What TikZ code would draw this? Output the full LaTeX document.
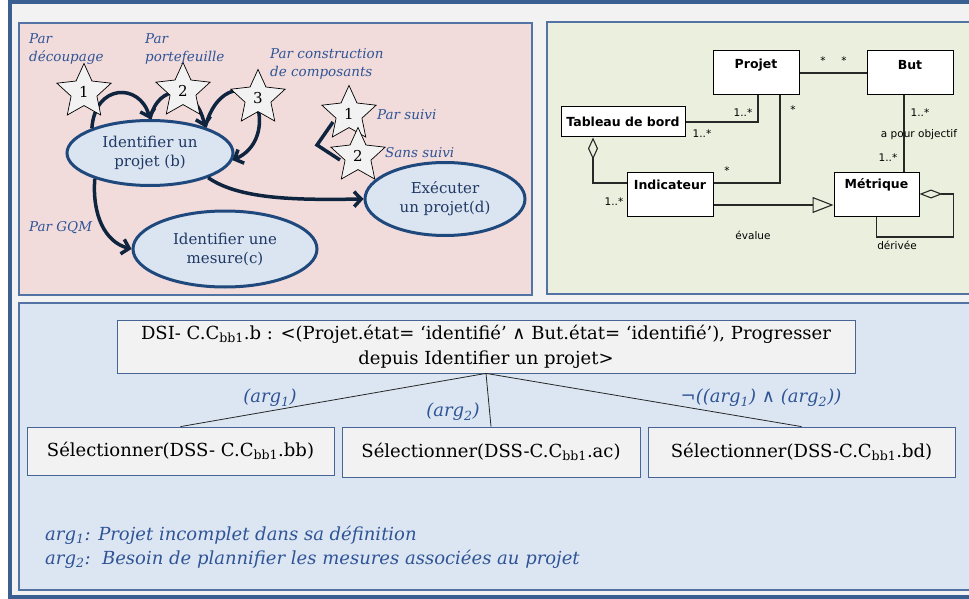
\documentclass[tikz,border=0pt]{standalone}
\usepackage{fontspec}
\setmainfont{DejaVu Serif}
\setsansfont{DejaVu Sans}
\usetikzlibrary{shapes.geometric,arrows.meta}
\definecolor{frameblue}{RGB}{58,95,145}
\definecolor{panelline}{RGB}{84,115,165}
\definecolor{bggray}{RGB}{242,242,242}
\definecolor{pinkfill}{RGB}{242,220,219}
\definecolor{greenfill}{RGB}{235,240,222}
\definecolor{bluefill}{RGB}{220,230,242}
\definecolor{arrnavy}{RGB}{15,36,62}
\definecolor{ellborder}{RGB}{31,73,125}
\definecolor{ellfill}{RGB}{219,229,241}
\definecolor{elltext}{RGB}{31,56,100}
\definecolor{lblblue}{RGB}{47,84,150}
\definecolor{stargray}{RGB}{242,242,242}
\definecolor{umlgray}{RGB}{40,40,40}
\definecolor{boxgray}{RGB}{242,242,242}
\definecolor{boxborder}{RGB}{70,100,150}
\newcommand{\logand}{{\sffamily\upshape ∧}}
\tikzset{
 arr/.style={line width=3.5pt, draw=arrnavy, -{Straight Barb[length=7pt,width=15pt]}},
 ell/.style={ellipse, draw=ellborder, line width=3pt, fill=ellfill, text=elltext, align=center, inner sep=0pt, font=\fontsize{15}{19}\selectfont},
 starnode/.style={star, star points=5, star point ratio=2.1, draw=black, line width=0.7pt, fill=stargray, minimum size=57pt, inner sep=0pt, font=\fontsize{15}{18}\selectfont},
 lbl/.style={text=lblblue, font=\fontsize{13.5}{18}\selectfont\itshape, align=left, inner sep=0pt},
 umlbox/.style={draw=black, line width=1pt, fill=white, inner sep=0pt},
 umltitle/.style={font=\sffamily\bfseries\fontsize{12.5}{15}\selectfont, inner sep=0pt},
 umllbl/.style={font=\sffamily\fontsize{10.5}{12}\selectfont, inner sep=0pt},
 uml/.style={draw=umlgray, line width=1.1pt},
 gbox/.style={draw=boxborder, line width=0.8pt, fill=boxgray, inner sep=0pt, align=center, font=\fontsize{18}{25}\selectfont},
 argl/.style={text=lblblue, font=\fontsize{18}{25}\selectfont\itshape, inner sep=0pt},
 tree/.style={draw=black!85, line width=0.8pt},
 panel/.style={draw=panelline, line width=1.2pt},
}
\begin{document}
\begin{tikzpicture}[x=1pt,y=-1pt]
\useasboundingbox (0,0) rectangle (969,599);
\clip (0,0) rectangle (969,599);
\fill[white] (0,0) rectangle (969,599);
\draw[draw=frameblue, line width=4pt, fill=bggray] (9.5,2) rectangle (990,597);
% panels
\draw[panel, fill=pinkfill] (19,23) rectangle (532,295);
\draw[panel, fill=greenfill] (547,22) rectangle (990,294);
\draw[panel, fill=bluefill] (19,303) rectangle (990,590);

% ---------- left panel ----------
\node[ell, minimum width=166pt, minimum height=65pt] (b) at (150,153) {Identifier un\\projet (b)};
\node[ell, minimum width=184pt, minimum height=76pt] (c) at (225,249) {Identifier une\\mesure(c)};
\node[ell, minimum width=160pt, minimum height=73pt] (d) at (445,199) {Exécuter\\un projet(d)};

\draw[arr] (b.157) .. controls (95,83) and (140,83) .. (b.north);
\draw[arr] (b.north) .. controls (158,83) and (195,83) .. (b.25);
\draw[arr] (b.25) .. controls (216,85) and (250,80) .. (258,108) .. controls (263,130) and (255,150) .. (b.-5);
\draw[arr] (b.-155) .. controls (92,215) and (105,242) .. (c.west);
\draw[arr] (b.-23) .. controls (240,200) and (300,200) .. (d.west);
\draw[line width=3.5pt, draw=arrnavy] (333,122) -- (317,145) -- (340,160);

\node[starnode] (s1) at (84,92) {1};
\node[starnode] (s2) at (183,91) {2};
\node[starnode] (s3) at (258,98) {3};
\node[starnode] (s4) at (349,114) {1};
\node[starnode] (s5) at (358,156) {2};

\node[lbl, anchor=north west] (l1) at (29,33) {Par\\découpage};
\node[lbl, anchor=north west] (l2) at (145,33) {Par\\portefeuille};
\node[lbl, anchor=north west] (l3) at (270,48) {Par construction\\de composants};
\node[lbl, anchor=west] (l4) at (377,115) {Par suivi};
\node[lbl, anchor=west] (l5) at (385,153) {Sans suivi};
\node[lbl, anchor=west] (l6) at (29,228) {Par GQM};

% ---------- right panel (UML) ----------
\node[umlbox, minimum width=86pt, minimum height=44pt] (projet) at (756,73) {};
\node[umltitle] at (756,65) {Projet};
\node[umlbox, minimum width=86pt, minimum height=44pt] (but) at (910,73) {};
\node[umltitle] at (910,65) {But};
\node[umlbox, minimum width=124pt, minimum height=30pt, umltitle] (tab) at (623,122) {Tableau de bord};
\node[umlbox, minimum width=86pt, minimum height=44pt] (ind) at (670,194) {};
\node[umltitle] at (670,185) {Indicateur};
\node[umlbox, minimum width=85pt, minimum height=44pt] (met) at (876.5,194) {};
\node[umltitle] at (876.5,185) {Métrique};

\draw[uml] (projet.east) -- (but.west);
\draw[uml] (tab.east) -| ([xshift=2pt]projet.south);
\draw[uml] ([xshift=24pt]projet.south) |- ([yshift=11pt]ind.east);
\draw[uml, {Diamond[open,length=22pt,width=10pt]}-] ([xshift=-30pt]tab.south) |- ([yshift=11pt]ind.west);
\draw[uml, -{Triangle[open,length=21pt,width=16pt]}] ([yshift=-11pt]ind.east) -- ([yshift=-11pt]met.west);
\draw[uml] ([xshift=-6pt]but.south) -- ([xshift=27.5pt]met.north);
\draw[uml, {Diamond[open,length=23pt,width=9pt]}-] (met.east) -- ++(34,0) -- ++(0,43) -| ([xshift=43pt]met.south west);

\node[umllbl] at (823,61) {*};
\node[umllbl] at (844,61) {*};
\node[umllbl] at (743,113) {1..*};
\node[umllbl] at (702,134) {1..*};
\node[umllbl] at (793,110) {*};
\node[umllbl] at (727,171) {*};
\node[umllbl] at (614,202) {1..*};
\node[umllbl] at (920,113) {1..*};
\node[umllbl] at (919,135) {a pour objectif};
\node[umllbl] at (888,158) {1..*};
\node[umllbl] at (753,235) {évalue};
\node[umllbl] at (897,245) {dérivée};

% ---------- bottom panel ----------
\node[gbox, minimum width=738pt, minimum height=53pt] (dsi) at (486,346.5) {DSI- C.C\textsubscript{bb1}.b : <(Projet.état= ‘identifié’ \logand{} But.état= ‘identifié’), Progresser\\depuis Identifier un projet>};
\node[gbox, minimum width=307pt, minimum height=48pt] (sb) at (180.5,451) {Sélectionner(DSS- C.C\textsubscript{bb1}.bb)};
\node[gbox, minimum width=298pt, minimum height=50pt] (sa) at (491,452) {Sélectionner(DSS-C.C\textsubscript{bb1}.ac)};
\node[gbox, minimum width=307pt, minimum height=50pt] (sd) at (801.5,452) {Sélectionner(DSS-C.C\textsubscript{bb1}.bd)};
\draw[tree] (dsi.south) -- (sb.north);
\draw[tree] (dsi.south) -- (sa.north);
\draw[tree] (dsi.south) -- (sd.north);
\node[argl] at (270,398) {(arg\textsubscript{1})};
\node[argl] at (453,412) {(arg\textsubscript{2})};
\node[argl] at (761,398) {¬((arg\textsubscript{1}) \logand{} (arg\textsubscript{2}))};
\node[argl, anchor=west] (leg1) at (45,535) {arg\textsubscript{1}: Projet incomplet dans sa définition};
\node[argl, anchor=west] (leg2) at (45,559) {arg\textsubscript{2}:\ \ Besoin de plannifier les mesures associées au projet};
\end{tikzpicture}
\end{document}
